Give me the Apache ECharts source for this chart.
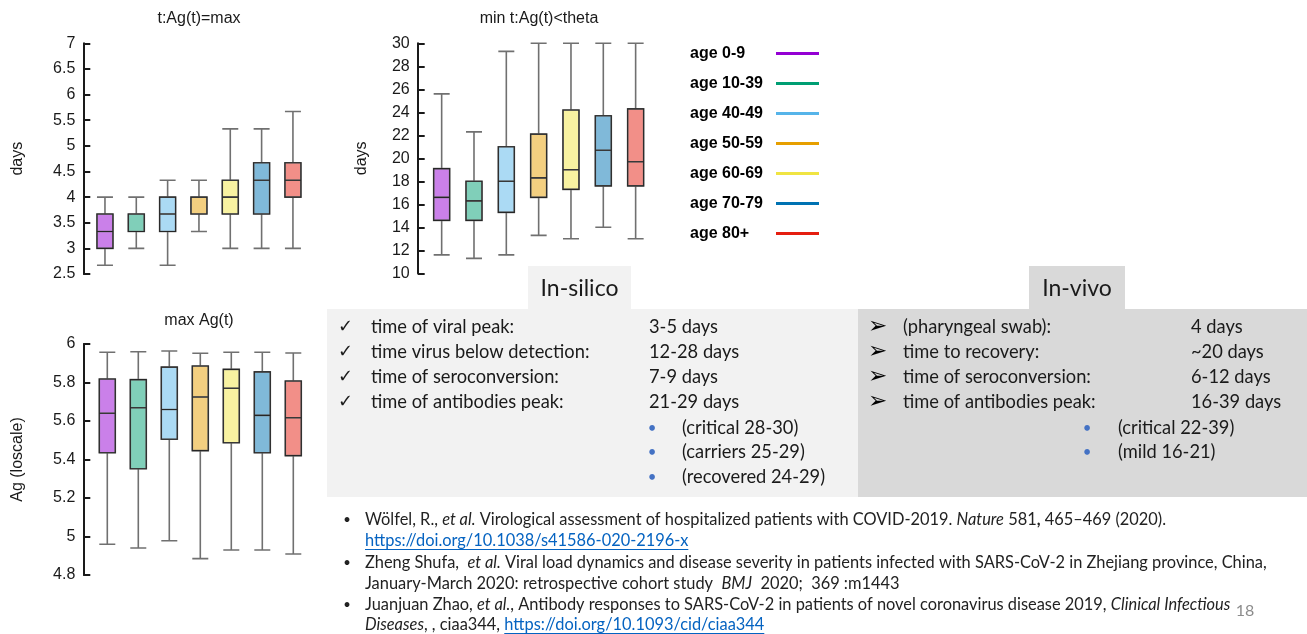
<!DOCTYPE html>
<html>
<head>
<meta charset="utf-8">
<script src="https://cdn.jsdelivr.net/npm/echarts@6/dist/echarts.min.js"></script>
<style>
  html, body { margin: 0; padding: 0; background: #ffffff; }
  #main { width: 1307px; height: 634px; }
</style>
</head>
<body>
<div id="main"></div>
<script>
// Age groups and their line colours
const ageGroups = ['age 0-9', 'age 10-39', 'age 40-49', 'age 50-59', 'age 60-69', 'age 70-79', 'age 80+'];
const ageColors = ['#9400D3', '#009E73', '#56B4E9', '#E69F00', '#F0E442', '#0072B2', '#E51E10'];

// Box statistics per age group: [min, Q1, median, Q3, max]
const peakTimeDays = [
  [2.67, 3.00, 3.33, 3.67, 4.00],
  [3.00, 3.33, 3.33, 3.67, 4.00],
  [2.67, 3.33, 3.67, 4.00, 4.33],
  [3.33, 3.67, 3.67, 4.00, 4.33],
  [3.00, 3.67, 4.00, 4.33, 5.33],
  [3.00, 3.67, 4.33, 4.67, 5.33],
  [3.00, 4.00, 4.33, 4.67, 5.67]
];
const clearanceDays = [
  [11.6, 14.6, 16.6, 19.1, 25.6],
  [11.3, 14.6, 16.3, 18.0, 22.3],
  [11.6, 15.3, 18.0, 21.0, 29.3],
  [13.3, 16.6, 18.3, 22.1, 30.0],
  [13.0, 17.3, 19.0, 24.2, 30.0],
  [14.0, 17.6, 20.7, 23.7, 30.0],
  [13.0, 17.6, 19.7, 24.3, 30.0]
];
const peakAg = [
  [4.960, 5.435, 5.640, 5.818, 5.957],
  [4.940, 5.352, 5.669, 5.815, 5.960],
  [4.978, 5.505, 5.660, 5.880, 5.964],
  [4.885, 5.446, 5.725, 5.886, 5.952],
  [4.930, 5.487, 5.770, 5.868, 5.957],
  [4.930, 5.435, 5.629, 5.855, 5.957],
  [4.909, 5.420, 5.617, 5.808, 5.953]
];

// Panel titles and axis names
const panelTitles = ['t:Ag(t)=max', 'min t:Ag(t)<theta', 'max Ag(t)'];
const axisNames = ['days', 'days', 'Ag (loscale)'];

// Summary text blocks
const silicoTitle = 'In-silico';
const silicoRows = [
  ['time of viral peak:', '3-5 days'],
  ['time virus below detection:', '12-28 days'],
  ['time of seroconversion:', '7-9 days'],
  ['time of antibodies peak:', '21-29 days']
];
const silicoNotes = ['(critical 28-30)', '(carriers 25-29)', '(recovered 24-29)'];
const vivoTitle = 'In-vivo';
const vivoRows = [
  ['(pharyngeal swab):', '4 days'],
  ['time to recovery:', '~20 days'],
  ['time of seroconversion:', '6-12 days'],
  ['time of antibodies peak:', '16-39 days']
];
const vivoNotes = ['(critical 22-39)', '(mild 16-21)'];

// References: segments of [text, style] where style is n (normal), i (italic), b (bold), u (link)
const references = [
  [
    [['Wölfel, R., ', 'n'], ['et al.', 'i'], [' Virological assessment of hospitalized patients with COVID-2019. ', 'n'], ['Nature', 'i'], [' 581', 'n'], [',', 'b'], [' 465–469 (2020).', 'n']],
    [['https://doi.org/10.1038/s41586-020-2196-x', 'u']]
  ],
  [
    [['Zheng Shufa,  ', 'n'], ['et al.', 'i'], [' Viral load dynamics and disease severity in patients infected with SARS-CoV-2 in Zhejiang province, China,', 'n']],
    [['January-March 2020: retrospective cohort study  ', 'n'], ['BMJ', 'i'], ['  2020;  369 :m1443', 'n']]
  ],
  [
    [['Juanjuan Zhao, ', 'n'], ['et al.', 'i'], [', Antibody responses to SARS-CoV-2 in patients of novel coronavirus disease 2019, ', 'n'], ['Clinical Infectious', 'i']],
    [['Diseases', 'i'], [', , ciaa344, ', 'n'], ['https://doi.org/10.1093/cid/ciaa344', 'u']]
  ]
];
const pageNumber = '18';

const axisFont = 'Liberation Sans';
const slideFont = 'Lato';
const textColor = '#1a1a1a';

function tint(hex, amount) {
  const n = parseInt(hex.slice(1), 16);
  const mix = v => Math.round(v + (255 - v) * amount);
  return 'rgb(' + mix((n >> 16) & 255) + ',' + mix((n >> 8) & 255) + ',' + mix(n & 255) + ')';
}

const measureCtx = document.createElement('canvas').getContext('2d');
function textWidth(text, size, style) {
  measureCtx.font = (style === 'i' ? 'italic ' : '') + (style === 'b' ? 'bold ' : '') + size + 'px ' + slideFont;
  return measureCtx.measureText(text).width;
}

// Layout of the three box-plot panels
const panels = [
  { data: peakTimeDays, grid: { left: 89.3, top: 43.3, width: 219.3, height: 230.7 }, min: 2.5, max: 7, interval: 0.5, offset: 6, nameGap: 58, title: [199, 19] },
  { data: clearanceDays, grid: { left: 425.5, top: 43.3, width: 226.3, height: 230 }, min: 10, max: 30, interval: 2, offset: 7.8, nameGap: 48, title: [539, 19] },
  { data: peakAg, grid: { left: 91.8, top: 344, width: 217, height: 231 }, min: 4.8, max: 6, interval: 0.2, offset: 8.5, nameGap: 58, title: [199, 321] }
];

const grid = [], xAxis = [], yAxis = [], series = [], graphic = [];

panels.forEach((p, k) => {
  grid.push(Object.assign({ outerBoundsMode: 'none' }, p.grid));
  // main axis and an overlay axis used to redraw the box outlines in a darker stroke
  for (let j = 0; j < 2; j++) {
    xAxis.push({ type: 'category', gridIndex: k, data: ageGroups, show: false, boundaryGap: true });
  }
  yAxis.push({
    type: 'value', gridIndex: k, min: p.min, max: p.max, interval: p.interval, offset: p.offset,
    axisLine: { show: true, lineStyle: { color: textColor, width: 2 } },
    axisTick: { show: true, inside: true, length: 7, lineStyle: { color: textColor, width: 2 } },
    axisLabel: { fontSize: 16, fontFamily: axisFont, color: textColor, margin: 8, formatter: v => String(+v.toFixed(1)) },
    splitLine: { show: false },
    name: axisNames[k], nameLocation: 'middle', nameGap: p.nameGap,
    nameTextStyle: { fontSize: 16, fontFamily: axisFont, color: textColor }
  });
  series.push({
    type: 'boxplot', xAxisIndex: 2 * k, yAxisIndex: k, boxWidth: [16, 16], silent: true,
    data: p.data.map((d, i) => ({ value: d, itemStyle: { color: tint(ageColors[i], 0.5), borderColor: '#707070', borderWidth: 1.6 } }))
  });
  series.push({
    type: 'boxplot', xAxisIndex: 2 * k + 1, yAxisIndex: k, boxWidth: [16, 16], silent: true,
    data: p.data.map(d => [d[1], d[1], d[2], d[3], d[3]]),
    itemStyle: { color: 'rgba(0,0,0,0)', borderColor: '#262626', borderWidth: 1.1 }
  });
  graphic.push({
    type: 'text', x: p.title[0], y: p.title[1], silent: true,
    style: { text: panelTitles[k], fontSize: 16, fontFamily: axisFont, fill: textColor, align: 'center', verticalAlign: 'middle' }
  });
});

// Legend: group names with coloured line samples
ageGroups.forEach((name, i) => {
  const y = 53.5 + 30 * i;
  graphic.push({ type: 'text', x: 690, y: y, silent: true,
    style: { text: name, fontSize: 16, fontWeight: 'bold', fontFamily: axisFont, fill: '#000', align: 'left', verticalAlign: 'middle' } });
  graphic.push({ type: 'line', silent: true, shape: { x1: 776, y1: y, x2: 819, y2: y },
    style: { stroke: ageColors[i], lineWidth: 3 } });
});

// Summary panels
graphic.push({ type: 'rect', silent: true, shape: { x: 327, y: 309, width: 531, height: 188 }, style: { fill: '#F2F2F2' } });
graphic.push({ type: 'rect', silent: true, shape: { x: 858, y: 309, width: 449, height: 188 }, style: { fill: '#D9D9D9' } });
graphic.push({ type: 'rect', silent: true, shape: { x: 528, y: 266, width: 103, height: 43 }, style: { fill: '#F2F2F2' } });
graphic.push({ type: 'rect', silent: true, shape: { x: 1029, y: 266, width: 96, height: 43 }, style: { fill: '#D9D9D9' } });

function slideText(text, x, y, size, opts) {
  graphic.push({ type: 'text', x: x, y: y, silent: true,
    style: Object.assign({ text: text, fontSize: size, fontFamily: slideFont, fill: textColor, align: 'left', verticalAlign: 'middle' }, opts || {}) });
}

slideText(silicoTitle, 579.5, 289, 23, { align: 'center' });
slideText(vivoTitle, 1077, 289, 23, { align: 'center' });

const rowSize = 18.3;
const rowY = [327, 352, 377, 402];
const noteY = [428, 452, 477];
silicoRows.forEach((r, i) => {
  slideText('✓', 338, rowY[i], 18, { fontFamily: 'DejaVu Sans' });
  slideText(r[0], 371, rowY[i], rowSize);
  slideText(r[1], 649, rowY[i], rowSize);
});
silicoNotes.forEach((t, i) => {
  slideText('•', 652, noteY[i], 15, { fill: '#4472C4', align: 'center' });
  slideText(t, 682, noteY[i], rowSize);
});
vivoRows.forEach((r, i) => {
  slideText('➢', 868, rowY[i], 23, { fontFamily: 'DejaVu Sans', fill: '#000' });
  slideText(r[0], 903, rowY[i], rowSize);
  slideText(r[1], 1191, rowY[i], rowSize);
});
vivoNotes.forEach((t, i) => {
  slideText('•', 1087, noteY[i], 15, { fill: '#4472C4', align: 'center' });
  slideText(t, 1118, noteY[i], rowSize);
});

// References list
const refSize = 16.4;
const refLineY = [520, 541, 563, 584, 605, 625];
let line = 0;
references.forEach(ref => {
  ref.forEach((segments, li) => {
    const y = refLineY[line++];
    if (li === 0) slideText('•', 347, y, 13, { align: 'center', fill: '#222' });
    let x = 365;
    segments.forEach(([t, s]) => {
      const w = textWidth(t, refSize, s);
      slideText(t, x, y, refSize, {
        fill: s === 'u' ? '#0563C1' : '#222',
        fontStyle: s === 'i' ? 'italic' : 'normal',
        fontWeight: s === 'b' ? 'bold' : 'normal'
      });
      if (s === 'u') {
        graphic.push({ type: 'line', silent: true, shape: { x1: x, y1: y + 8.5, x2: x + w, y2: y + 8.5 },
          style: { stroke: '#0563C1', lineWidth: 1 } });
      }
      x += w;
    });
  });
});
slideText(pageNumber, 1245, 611, 16, { fill: '#8C8C8C', align: 'center' });

const chart = echarts.init(document.getElementById('main'));
chart.setOption({
  animation: false,
  grid: grid,
  xAxis: xAxis,
  yAxis: yAxis,
  series: series,
  graphic: { elements: graphic }
});
</script>
</body>
</html>
